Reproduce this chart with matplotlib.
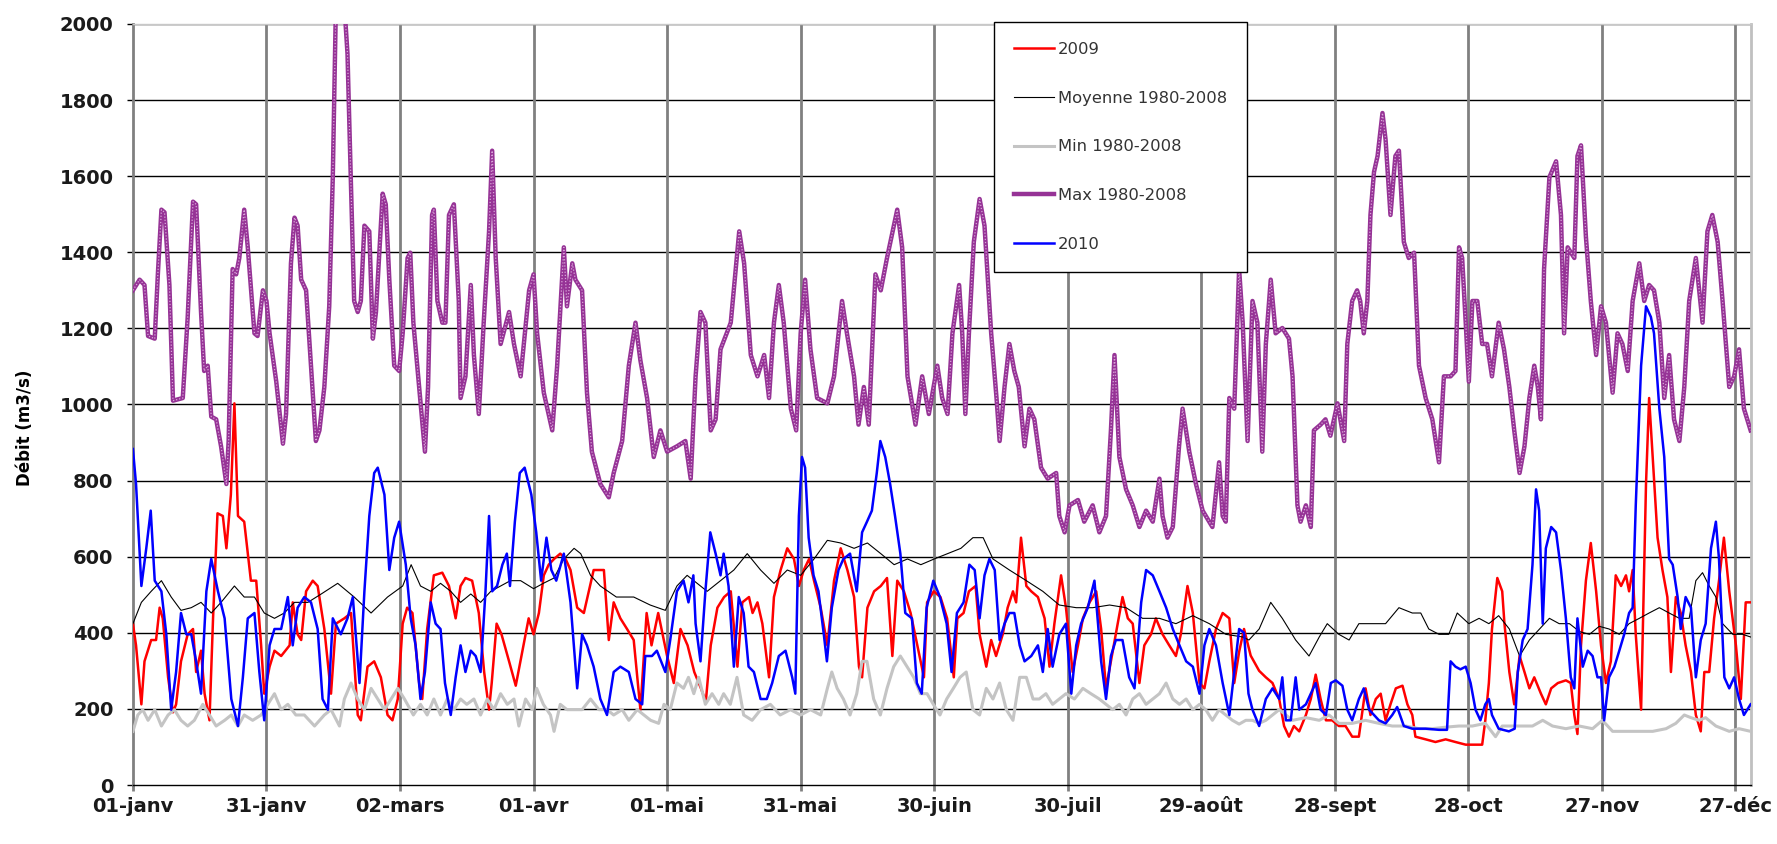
import numpy as np
import matplotlib
matplotlib.use("Agg")
import matplotlib.pyplot as plt

# jours depuis le 01-janv (m3/s)
tick_days = [0, 30, 60, 90, 120, 150, 180, 210, 240, 270, 300, 330, 360]
tick_labels = ["01-janv", "31-janv", "02-mars", "01-avr", "01-mai", "31-mai", "30-juin",
               "30-juil", "29-août", "28-sept", "28-oct", "27-nov", "27-déc"]

pts_2009 = [(0,424),(0.7,367),(1.9,212),(2.6,325),(4.1,381),(5.2,381),(6,466),(6.7,438),(7.9,283),(9,191),
    (9.7,212),(10.8,325),(12.3,396),(13.5,410),(14.2,297),(15.3,353),(16.1,240),(17.2,170),(18,438),(19,714),
    (20.2,707),(21,622),(22,763),(22.8,1003),(23.6,707),(25,692),(26.5,537),(27.7,537),(28.8,367),(29.5,240),
    (30.7,311),(31.8,353),(33.3,339),(35.2,367),(35.9,480),(37,396),(37.8,381),(38.9,509),(40.4,537),(41.5,523),
    (43,410),(44.5,240),(45.6,424),(47.5,438),(49,452),(50.5,184),(51.2,170),(52.7,311),(54.2,325),(55.7,283),
    (57.2,184),(58.3,170),(59.5,226),(60.6,424),(61.6,466),(62.8,452),(64.3,268),(65,226),(66.1,410),(67.6,551),
    (69.5,558),(71,523),(72.5,438),(73.6,523),(74.7,544),(76.2,537),(77.7,452),(78.9,297),(80,198),(80.6,268),
    (81.7,424),(82.8,396),(84.5,325),(86,261),(87.5,353),(88.9,438),(90,396),(91.2,452),(92.3,551),(93.4,579),
    (94.6,594),(96,608),(97.2,594),(98.3,565),(99.8,466),(101.3,452),(102.4,509),(103.5,565),(105.8,565),(106.9,381),
    (108,480),(109.5,438),(111,410),(112.5,381),(114,198),(115.4,452),(116.5,367),(118,452),(120,339),(121.5,268),
    (123,410),(124.6,367),(126.1,297),(127.6,254),(128.7,219),(129.8,367),(131.3,466),(132.8,494),(134.3,509),(135.8,311),
    (136.9,480),(138.4,494),(139.2,452),(140.3,480),(141.4,424),(142.9,283),(144,494),(145.5,565),(147,622),(148.5,594),
    (149.6,523),(150.7,565),(151.9,594),(153,537),(154.5,466),(156,367),(157.5,537),(159,622),(160.5,565),(162,494),
    (163.1,311),(163.8,283),(165,466),(166.5,509),(168,523),(169.4,544),(170.6,339),(171.7,537),(173.2,509),(174.7,452),
    (176.2,367),(177.7,283),(178.4,480),(179.9,509),(181.4,494),(182.9,438),(184.4,283),(185.2,438),(186.6,452),(187.8,509),
    (189.3,523),(190.2,396),(191.7,311),(192.8,381),(193.9,339),(195.4,396),(196.5,466),(197.7,509),(198.4,480),(199.5,650),
    (200.7,523),(201.8,509),(203.3,494),(204.8,438),(205.9,311),(207,424),(208.5,551),(209.6,466),(211.1,297),(212.3,367),
    (213.4,438),(214.9,480),(216.4,509),(217.5,410),(218.6,254),(219.7,325),(220.8,396),(222.3,494),(223.5,438),(224.6,424),
    (226.1,268),(227.2,367),(228.7,396),(229.8,438),(231.3,396),(232.8,367),(234.3,339),(235.4,396),(236.9,523),(238.1,452),
    (239.6,268),(240.7,254),(241.8,325),(243.3,410),(244.8,452),(246.3,438),(247.4,268),(248.5,350),(249.6,410),(251.1,340),
    (253,300),(254.5,283),(256,268),(257.5,226),(258.6,155),(259.7,127),(260.8,155),(262,141),(263.5,184),(264.6,226),
    (265.7,290),(266.8,226),(268,170),(269.4,170),(270.9,155),(272.4,155),(273.9,127),(275.4,127),(276.9,254),(278,184),
    (279.2,226),(280.3,240),(281.4,170),(282.5,212),(283.7,254),(285.2,261),(286.3,212),(287.4,184),(288.1,127),(290.4,120),
    (292.6,113),(294.9,120),(297.1,113),(299.4,106),(301.6,106),(303.1,106),(303.8,170),(304.6,268),(305.3,410),(306.5,544),
    (307.6,509),(308.1,424),(309.2,297),(310.3,212),(311.5,339),(312.6,297),(313.7,254),(314.8,283),(316.3,240),(317.4,212),
    (318.6,254),(320.1,268),(321.9,275),(323,268),(323.8,184),(324.5,134),(325.3,367),(326.4,537),(327.5,636),(328.7,509),
    (329.8,367),(330.9,268),(332,325),(333.1,551),(334.3,523),(335.4,551),(336.1,509),(336.9,565),(337.6,396),(338.8,198),
    (339.9,791),(340.6,1017),(341.4,862),(342.5,650),(343.6,565),(344.7,494),(345.5,297),(346.6,494),(347.7,452),(348.8,367),
    (350,297),(351.1,184),(352.2,141),(353,297),(354.1,297),(355.2,438),(356.3,537),(357.4,650),(358.6,509),(360.1,367),
    (361.2,226),(362.3,480),(363.4,480)]

pts_moyenne = [(0,424),(1.9,480),(4.1,509),(6.4,537),(8.6,494),(10.8,459),(13.1,466),(15.3,480),(17.6,452),(19.8,480),
    (22.8,523),(25,494),(27.3,494),(29.5,452),(31.8,438),(34,452),(36.3,480),(39.3,480),(42.3,502),(46,530),
    (49.7,494),(53.5,452),(57.2,494),(60.6,523),(62.5,579),(64.6,523),(66.9,509),(69.1,530),(71.4,509),(73.6,480),
    (75.9,502),(78.1,480),(80.4,509),(82.6,523),(84.8,537),(87.1,537),(90,516),(92.2,530),(94.6,544),(96.8,594),
    (99.1,622),(100.6,608),(102.8,551),(105,523),(108.6,494),(112.5,494),(116.2,473),(119.6,459),(122.2,523),(124.5,551),
    (126,537),(129,509),(132,537),(135,565),(138,608),(141,565),(144,530),(147,565),(150,551),(153,594),
    (156,643),(159,636),(162,622),(165,636),(168,608),(171,579),(174,594),(177,579),(180,594),(183,608),
    (186,622),(188.7,650),(191,650),(193.2,594),(196.9,565),(200.7,537),(204.4,509),(208.1,473),(211.9,466),(215.6,466),
    (219.4,473),(223.1,466),(226.8,438),(230.6,438),(234.3,424),(238.1,445),(241.8,424),(245.5,396),(249.3,389),(250.7,381),
    (253,410),(255.6,480),(258.2,438),(261.2,381),(264.2,339),(266.5,389),(268.3,424),(270.9,396),(273.2,381),(275.4,424),
    (278.4,424),(281.4,424),(284.4,466),(287.4,452),(289.3,452),(291.1,410),(293.4,396),(295.6,396),(297.5,452),(300.1,424),
    (302.4,438),(304.6,424),(306.8,445),(309.2,410),(311.5,339),(313.7,381),(316,410),(318.2,438),(320.4,424),(322.7,424),
    (325,403),(327.2,396),(329.4,417),(331.6,410),(333.9,396),(336.1,424),(338.4,438),(340.6,452),(342.9,466),(345.1,452),
    (347.4,438),(349.6,438),(351.1,537),(352.6,558),(354.1,523),(355.6,494),(357.1,424),(359.4,396),(361.6,396),(363.4,389)]

pts_min = [(0,141),(1.1,184),(2.2,198),(3.4,170),(4.9,198),(6.4,155),(7.9,184),(9.3,198),(10.8,170),(12.3,155),
    (13.8,170),(15.7,212),(17.2,184),(18.7,155),(20.6,170),(22.1,184),(23.6,155),(25,184),(26.9,170),(28.8,184),
    (30.3,212),(31.8,240),(33.3,198),(34.8,212),(36.6,184),(38.5,184),(40.8,155),(43,184),(44.5,198),(46.4,155),
    (47.5,226),(49,268),(50.5,226),(52,198),(53.5,254),(55,226),(56.5,198),(58,226),(59.5,254),(61,226),
    (63,184),(64.6,212),(66.1,184),(67.6,226),(69.1,184),(70.6,226),(72.1,198),(73.6,226),(75,212),(76.6,226),
    (78.1,184),(79.6,226),(81.1,198),(82.6,240),(84.1,212),(85.6,226),(86.7,155),(88.2,226),(89.7,198),(90.7,254),
    (92.2,212),(93.8,184),(94.6,141),(96,212),(97.5,198),(99,198),(100.9,198),(102.8,226),(104.7,198),(106.5,198),
    (108,184),(109.9,198),(111.4,170),(113.3,198),(114.8,184),(116.3,170),(118.1,162),(119.3,212),(120.7,198),(122.2,268),
    (123.7,254),(124.8,283),(126,240),(127.1,283),(128.6,212),(130.1,240),(131.6,212),(132.7,240),(134.2,212),(135.7,283),
    (137.2,184),(139.1,170),(141,198),(143.2,212),(145.4,184),(147.7,198),(150,184),(152.2,198),(154.5,184),(156,254),
    (157,297),(158.2,254),(159.6,226),(161.1,184),(162.6,240),(163.8,325),(164.9,325),(166.4,226),(167.9,184),(169.4,254),
    (170.9,311),(172.4,339),(173.9,311),(175.4,283),(176.9,240),(178.4,240),(179.8,212),(181.3,184),(182.8,226),(184.3,254),
    (185.8,283),(187.2,297),(188.7,198),(190.2,184),(191.7,254),(193.2,226),(194.7,268),(196.2,198),(197.7,170),(199.2,283),
    (200.7,283),(202.2,226),(203.6,226),(205.1,240),(206.6,212),(208.1,226),(209.6,240),(211.5,226),(213.4,254),(215.2,240),
    (217.1,226),(218.6,212),(220.1,198),(221.6,212),(223.1,184),(224.6,226),(226.1,240),(227.6,212),(229.1,226),(230.6,240),
    (232.1,268),(233.6,226),(235.1,212),(236.6,226),(238.1,198),(239.6,212),(241,198),(242.5,170),(244,198),(245.5,184),
    (247,170),(248.5,160),(250,170),(251.5,170),(253,162),(254.5,170),(257.5,198),(260.5,170),(263.5,177),(266.5,170),
    (268.7,184),(270.9,162),(273.9,162),(276.9,170),(279.9,162),(282.9,155),(285.9,155),(288.9,148),(291.9,148),(294.9,152),
    (297.9,155),(300.9,155),(303.8,162),(306.1,127),(307.6,155),(310.7,155),(314.4,155),(316.7,170),(318.9,155),(321.9,148),
    (324.9,155),(327.9,148),(330.1,170),(332.4,141),(335.4,141),(338.4,141),(341.4,141),(344.4,148),(346.6,162),(348.5,184),
    (350,177),(351.8,170),(353.3,177),(355.6,155),(358.6,141),(360.8,148),(363.4,141)]

pts_max = [(0,1300),(1.5,1328),(2.6,1314),(3.4,1180),(4.9,1173),(5.6,1342),(6.4,1512),(7.1,1505),(8.2,1314),(9,1010),
    (11.2,1017),(12.3,1229),(13.5,1533),(14.2,1526),(15.3,1243),(16,1088),(16.8,1102),(17.6,968),(18.7,961),(19.8,890),
    (21,791),(21.5,904),(22.4,1356),(23.2,1342),(23.9,1385),(25,1512),(25.8,1413),(27.3,1187),(28,1180),(29.2,1300),
    (30,1272),(30.7,1187),(32.2,1060),(33.7,897),(34.4,975),(35.5,1371),(36.3,1491),(37,1470),(37.8,1328),(38.9,1300),
    (40,1102),(41.1,904),(41.9,932),(43,1046),(44.1,1258),(44.9,1597),(45.6,2050),(47.5,2050),(48.2,1922),(49,1569),
    (49.7,1272),(50.5,1243),(51.2,1272),(52,1470),(53.1,1455),(53.9,1173),(54.6,1243),(56.1,1554),(56.8,1526),(57.6,1328),
    (58.7,1102),(59.8,1088),(60.6,1187),(61.7,1385),(62.3,1399),(63,1215),(64.3,1046),(65.6,876),(66.3,1046),(67.2,1498),
    (67.6,1512),(68.4,1272),(69.5,1215),(70.2,1215),(71,1498),(72.1,1526),(73.2,1272),(73.6,1017),(74.7,1074),(75.9,1314),
    (76.6,1130),(77.7,975),(78.8,1215),(80,1455),(80.7,1667),(81.5,1385),(82.6,1159),(84.5,1243),(85.6,1159),(87.1,1074),
    (89,1300),(90,1342),(90.8,1187),(92.3,1031),(94.2,932),(95.3,1102),(96.8,1413),(97.5,1258),(98.7,1371),(99.4,1328),
    (100.9,1300),(102,1031),(103.1,876),(105,791),(106.9,756),(108,820),(109.9,904),(111.4,1102),(112.9,1215),(114,1116),
    (115.5,1017),(117,862),(118.5,932),(120,876),(122.2,890),(124.1,904),(125.3,805),(126.4,1074),(127.5,1243),(128.6,1215),
    (129.8,932),(130.9,961),(132,1145),(134.3,1215),(136.2,1455),(137.3,1371),(138.8,1130),(140.3,1074),(141.8,1130),(142.9,1017),
    (144,1215),(145.1,1314),(146.2,1215),(147.8,989),(149,932),(150,1187),(151,1328),(152.2,1145),(153.7,1017),(156,1003),
    (157.5,1074),(159.3,1272),(160.4,1187),(162,1074),(163,947),(164.2,1046),(165.3,947),(166.8,1342),(168,1300),(169.4,1385),
    (171.7,1512),(172.8,1413),(174,1074),(175.8,947),(177.3,1074),(178.8,975),(180.7,1102),(181.8,1017),(183,975),(184.1,1187),
    (185.6,1314),(186.3,1187),(187,975),(187.8,1187),(188.9,1427),(190.2,1540),(191.3,1470),(192.8,1187),(194,1017),(194.7,904),
    (195.8,1046),(196.9,1159),(198,1088),(199,1046),(200.3,890),(201.4,989),(202.5,961),(204,834),(205.5,805),(207.4,820),
    (208.1,707),(209.3,664),(210.4,735),(212.3,749),(213.7,692),(215.6,735),(217.1,664),(218.6,707),(219.7,932),(220.5,1130),
    (221.6,862),(223.1,777),(224.6,735),(226.1,678),(227.6,721),(229.1,692),(230.6,805),(231.3,707),(232.4,650),(233.6,678),
    (235,890),(235.8,989),(237.3,876),(238.8,791),(240.3,721),(242.5,678),(244,848),(244.8,707),(245.5,692),(246.3,1017),
    (247.4,989),(248.5,1356),(249.3,1215),(250.4,904),(251.5,1272),(252.6,1215),(253.7,876),(254.5,1159),(255.6,1328),(256.7,1187),
    (258.2,1201),(259.7,1173),(260.5,1074),(261.6,735),(262.3,692),(263.5,735),(264.6,678),(265.3,932),(266.8,947),(267.9,961),
    (269,918),(270.6,1003),(272.1,904),(272.8,1159),(273.9,1272),(275,1300),(275.7,1272),(276.5,1187),(277.3,1272),(278,1498),
    (278.8,1611),(279.6,1653),(280.7,1766),(281.4,1696),(282.5,1498),(283.6,1653),(284.4,1667),(285.5,1427),(286.6,1385),(287.8,1399),
    (288.9,1102),(290.4,1017),(291.9,961),(293.4,848),(294.5,1074),(296,1074),(297.1,1088),(297.9,1413),(298.6,1385),(299.4,1215),
    (300.1,1060),(300.9,1272),(302,1272),(303.1,1159),(304.2,1159),(305.3,1074),(306.8,1215),(308,1145),(309.2,1046),(310.3,932),
    (311.5,820),(312.6,890),(313.7,1017),(314.8,1102),(315.6,1046),(316.3,961),(317,1356),(318.2,1597),(319.7,1639),(320.8,1498),
    (321.5,1187),(322.3,1413),(323.8,1385),(324.5,1653),(325.3,1681),(326.4,1441),(327.5,1272),(328.7,1130),(329.8,1258),(330.9,1215),
    (332.4,1031),(333.5,1187),(334.6,1159),(335.8,1088),(336.9,1272),(338.4,1371),(339.5,1272),(340.6,1314),(341.7,1300),(342.9,1215),
    (344,1017),(345.1,1130),(346.2,961),(347.4,904),(348.5,1046),(349.6,1272),(351.1,1385),(352.6,1215),(353.7,1455),(354.8,1498),
    (356,1427),(357.1,1272),(358.6,1046),(359.7,1074),(360.8,1145),(361.9,989),(363.4,932)]

pts_2010 = [(0,883),(0.7,791),(1.9,523),(3,622),(4,721),(4.9,537),(6.4,509),(7.5,396),(8.6,198),(9.7,297),
    (10.8,452),(12,396),(13.1,396),(14.2,325),(15.3,240),(16.5,509),(17.6,594),(19.1,509),(20.6,438),(22.1,226),
    (23.6,155),(24.7,283),(25.8,438),(27.3,452),(28.4,297),(29.5,170),(30.7,367),(31.8,410),(33.3,410),(34.8,494),
    (35.9,367),(37,466),(38.5,494),(40,480),(41.5,410),(42.6,226),(43.8,198),(44.9,438),(46.7,396),(48.2,438),
    (49.4,494),(50.9,268),(52,509),(53.1,707),(54.2,820),(55,834),(56.5,763),(57.6,565),(58.7,650),(59.8,692),
    (61.3,579),(62.4,438),(63.5,367),(64.6,226),(65.6,297),(66.9,480),(68,424),(69.1,410),(70.1,268),(71.4,184),
    (72.5,283),(73.6,367),(74.7,297),(75.9,353),(77,339),(78.1,297),(79.2,509),(80,707),(80.7,509),(81.8,523),
    (83,579),(84,608),(84.7,523),(85.8,692),(86.9,820),(88,834),(89.5,763),(90.6,664),(91.7,537),(92.9,650),
    (94,565),(95.1,537),(96.8,608),(98.3,480),(99.8,254),(100.9,396),(102,367),(103.5,311),(105,226),(106.5,184),
    (108,297),(109.5,311),(111.4,297),(112.9,226),(114.4,212),(115.1,339),(116.6,339),(117.7,353),(119.6,297),(120.7,381),
    (122.2,509),(123.7,537),(124.8,480),(125.9,551),(126.4,424),(127.5,325),(128.6,509),(129.7,664),(130.9,608),(132,551),
    (132.7,608),(133.8,523),(135,311),(136.1,494),(137.2,452),(138.3,311),(139.5,297),(141,226),(142.4,226),(143.6,268),
    (145.1,339),(146.6,353),(148.1,283),(148.8,240),(149.6,707),(150.3,862),(151,834),(151.8,650),(152.9,551),(154,509),
    (155.2,396),(155.9,325),(157,466),(158.5,565),(159.6,594),(161.1,608),(162.6,509),(163.8,664),(164.9,692),(166,721),
    (167.1,820),(167.9,904),(169,862),(170.1,791),(171.2,707),(172.4,608),(173.5,452),(175,438),(176.1,268),(177.2,240),
    (178.3,466),(179.8,537),(181.3,494),(182.8,424),(183.9,297),(185.1,452),(186.6,480),(187.9,579),(189.1,565),(190.2,438),
    (191.3,551),(192.4,594),(193.6,565),(194.7,381),(195.8,424),(196.9,452),(198,452),(199.2,367),(200.3,325),(201.8,339),
    (203.3,367),(204.4,297),(205.5,410),(206.6,311),(208.1,396),(209.6,424),(210.8,240),(211.9,367),(213,424),(214.5,466),
    (216,537),(216.7,438),(217.5,325),(218.6,226),(219.7,339),(220.8,381),(222.3,381),(223.8,283),(225,254),(226.5,480),
    (227.6,565),(229.1,551),(230.6,509),(232.1,466),(233.6,410),(235.1,367),(236.6,325),(238.1,311),(239.6,240),(240.7,367),
    (241.8,410),(243.3,367),(244.8,268),(246.3,184),(247.4,297),(248.5,410),(249.6,400),(250.6,240),(251.5,198),(253,155),
    (254.5,226),(256,254),(257.5,226),(258.2,283),(259,170),(260.1,170),(261.2,283),(262,198),(263.5,212),(264.6,240),
    (265.7,268),(266.8,198),(268,184),(269.1,268),(270.2,275),(271.7,261),(272.8,198),(273.9,170),(275.4,226),(276.5,254),
    (277.7,198),(278.8,184),(279.9,170),(281.4,162),(282.9,184),(284,205),(285.5,155),(287.4,148),(290.4,148),(293.4,145),
    (295.2,145),(296,325),(297.1,311),(298.2,304),(299.4,311),(300.5,268),(301.6,198),(302.7,170),(303.8,212),(304.6,226),
    (305.3,184),(306.8,148),(309.1,141),(310.4,148),(311.1,297),(312.2,381),(313.3,410),(314.4,579),(315.2,777),(315.9,721),
    (316.7,424),(317.4,622),(318.6,678),(319.7,664),(320.8,565),(321.9,438),(323,283),(323.8,254),(324.5,438),(325.7,311),
    (326.8,353),(327.9,339),(329,283),(329.8,283),(330.5,170),(331.6,283),(332.8,311),(333.9,353),(335,396),(336.1,452),
    (336.9,466),(337.6,735),(338.8,1102),(339.9,1258),(341,1230),(341.7,1187),(342.9,989),(344,862),(345.1,594),(345.9,579),
    (347,494),(347.7,410),(348.8,494),(350,466),(351.1,283),(352.2,381),(353.3,424),(354.5,622),(355.6,692),(356.3,594),
    (357.5,283),(358.6,254),(359.7,283),(360.8,226),(361.9,184),(363.4,212)]


def xy(pts):
    a = np.array(pts, dtype=float)
    return a[:, 0], a[:, 1]


fig = plt.figure(figsize=(17.77, 8.44), dpi=100)
ax = fig.add_axes([0.0748, 0.0699, 0.9106, 0.9017])

# grille
for v in range(200, 2001, 200):
    ax.axhline(v, color="black", lw=1.0, zorder=1)
for d in tick_days[1:]:
    ax.axvline(d, color="#808080", lw=2.0, zorder=1)

x, y = xy(pts_2009)
ax.plot(x, y, color="#ff0000", lw=1.8, label="2009", zorder=3)
x, y = xy(pts_moyenne)
ax.plot(x, y, color="black", lw=0.8, label="Moyenne 1980-2008", zorder=3)
x, y = xy(pts_min)
ax.plot(x, y, color="#c4c4c4", lw=2.2, label="Min 1980-2008", zorder=3)
x, y = xy(pts_max)
ax.plot(x, y, color="#963396", lw=3.2, label="Max 1980-2008", zorder=3)
ax.plot(x, y, color="#d9a6d9", lw=0.9, ls=(0, (1, 1.5)), zorder=3)
x, y = xy(pts_2010)
ax.plot(x, y, color="#0000ff", lw=1.8, label="2010", zorder=4)

ax.set_xlim(0, 363.5)
ax.set_ylim(0, 2000)
ax.set_yticks(range(0, 2001, 200))
ax.set_xticks(tick_days)
ax.set_xticklabels(tick_labels)

for lab in ax.get_xticklabels() + ax.get_yticklabels():
    lab.set_fontweight("bold")
    lab.set_fontsize(14)
    lab.set_color("#1a1a1a")
ax.tick_params(axis="y", length=4, width=1, color="black", pad=10)
ax.tick_params(axis="x", length=4.5, width=2, color="#808080", pad=4)

ax.spines["left"].set_color("#808080")
ax.spines["left"].set_linewidth(2)
ax.spines["bottom"].set_color("black")
ax.spines["bottom"].set_linewidth(1)
ax.spines["top"].set_color("#c8c8c8")
ax.spines["top"].set_linewidth(1)
ax.spines["right"].set_color("#c0c0c0")
ax.spines["right"].set_linewidth(2)

fig.text(25 / 1777, 1 - 428 / 844, "Débit (m3/s)", rotation=90, fontsize=12,
         fontweight="bold", ha="center", va="center")

leg = ax.legend(loc="upper left", bbox_to_anchor=(0.532, 1.003), fontsize=11.8,
                frameon=True, fancybox=False, framealpha=1, edgecolor="black",
                handlelength=2.4, handletextpad=0.25, labelspacing=2.05,
                borderpad=1.25, borderaxespad=0.0)
leg.get_frame().set_linewidth(1.0)
for t in leg.get_texts():
    t.set_color("#333333")

fig.savefig("out.png", dpi=100)
